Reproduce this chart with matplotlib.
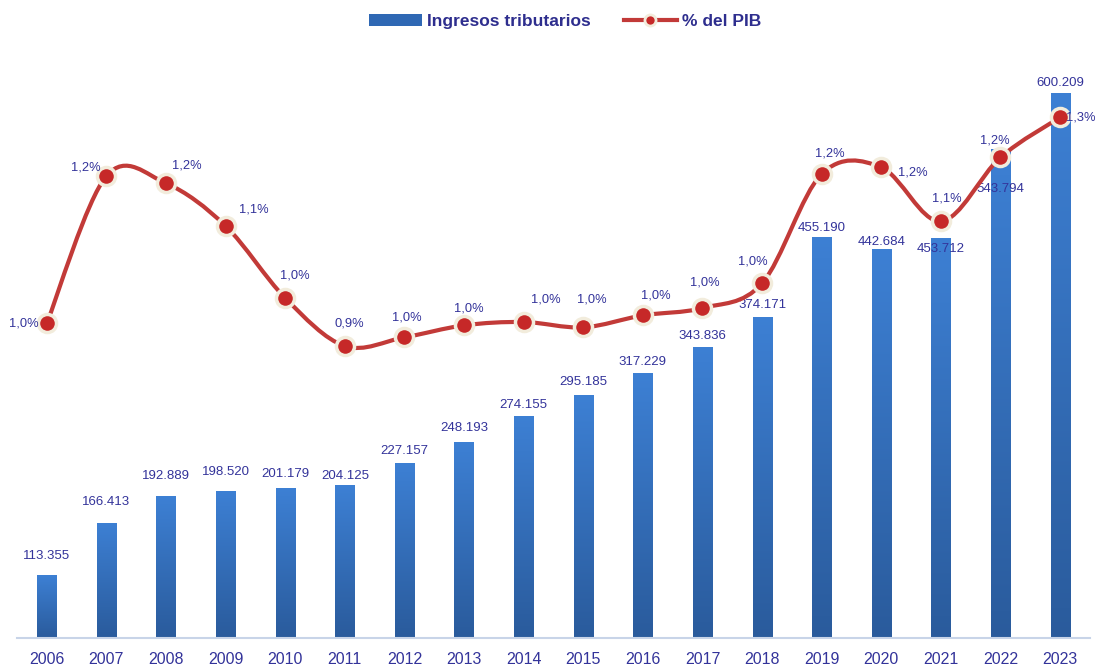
import numpy as np
import matplotlib
matplotlib.use("Agg")
import matplotlib.pyplot as plt
from matplotlib.path import Path
from matplotlib.patches import PathPatch, Patch
from matplotlib.lines import Line2D
from matplotlib.colors import LinearSegmentedColormap

plt.rcParams['font.family'] = ['Liberation Sans', 'DejaVu Sans']

# data
years = [str(y) for y in range(2006, 2024)]
ingresos = [113355, 166413, 192889, 198520, 201179, 204125, 227157, 248193, 274155,
            295185, 317229, 343836, 374171, 455190, 442684, 453712, 543794, 600209]
pct_pib = [0.975, 1.196, 1.185, 1.121, 1.013, 0.941, 0.954, 0.972, 0.977,
           0.969, 0.987, 0.998, 1.035, 1.199, 1.209, 1.128, 1.224, 1.284]

# label offsets in points (text centre relative to the mark)
pct_off = [(-16.5, 0), (-15, 6), (15, 13), (20, 12), (7, 16), (3, 16), (2, 14), (3.6, 12.2),
           (16, 16.5), (6.5, 20), (9.4, 14.4), (2, 18.7), (-6.5, 16), (5.8, 15), (23, -3.6),
           (4.3, 16.5), (-4.3, 12.2), (15, 0)]
bar_off = [13.7, 15, 14.4, 13.7, 10, 6.5, 8, 9.7, 8, 9.4, 8, 8, 8.6, 6.5, 5, -8, -29, 7.2]

txt_col = '#33339a'
blue_top = '#3d80d4'
blue_bot = '#2a5b9c'
red = '#c23a38'

fig = plt.figure(figsize=(10.97, 6.69), dpi=100)
ax = fig.add_axes([0.0155, 0.0463, 0.978, 0.8939])
ax2 = ax.twinx()

x = np.arange(len(years))
w = 0.32
ymin, ymax = 50000, 653700

cmap = LinearSegmentedColormap.from_list('b', [blue_bot, blue_top])
grad = np.linspace(0, 1, 256).reshape(-1, 1)
bars = ax.bar(x, np.array(ingresos) - ymin, bottom=ymin, width=w, color=blue_top, zorder=2)
for b, v in zip(bars, ingresos):
    im = ax.imshow(grad, cmap=cmap, origin='lower', aspect='auto',
                   extent=[b.get_x(), b.get_x() + w, ymin, v], zorder=2)
    im.set_clip_path(b)
ax.set_xlim(-0.5, len(years) - 0.5)
ax.set_ylim(ymin, ymax)

for i, v in enumerate(ingresos):
    lab = f"{v:,}".replace(',', '.')
    ax.annotate(lab, (x[i], v), xytext=(0, bar_off[i]), textcoords='offset points',
                ha='center', va='center', fontsize=9.5, color=txt_col, zorder=5)

# smooth line (catmull-rom -> bezier)
ax2.set_ylim(0.503, 1.40)
pts = np.column_stack([x, pct_pib]).astype(float)
verts = [tuple(pts[0])]
codes = [Path.MOVETO]
for i in range(len(pts) - 1):
    p0 = pts[i - 1] if i > 0 else pts[i]
    p1, p2 = pts[i], pts[i + 1]
    p3 = pts[i + 2] if i + 2 < len(pts) else pts[i + 1]
    c1 = p1 + (p2 - p0) / 6
    c2 = p2 - (p3 - p1) / 6
    verts += [tuple(c1), tuple(c2), tuple(p2)]
    codes += [Path.CURVE4] * 3
ax2.add_patch(PathPatch(Path(verts, codes), fill=False, edgecolor=red, lw=3, zorder=3))
ax2.plot(x, pct_pib, 'o', ms=13, mfc='#c62828', mec='#f2ecdc', mew=2.5, zorder=4)

for i, v in enumerate(pct_pib):
    lab = f"{v:.1f}%".replace('.', ',')
    ax2.annotate(lab, (x[i], v), xytext=pct_off[i], textcoords='offset points',
                 ha='center', va='center', fontsize=9.3, color=txt_col, zorder=5)

for a in (ax, ax2):
    for s in a.spines.values():
        s.set_visible(False)
    a.set_yticks([])
ax.spines['bottom'].set_visible(True)
ax.spines['bottom'].set_color('#c8d4e8')
ax.spines['bottom'].set_linewidth(1.5)
ax.set_xticks(x)
ax.set_xticklabels(years, fontsize=11.5, color=txt_col)
ax.tick_params(axis='x', length=0, pad=10)

handles = [Patch(facecolor='#2f68b4', edgecolor='none'),
           Line2D([], [], color=red, lw=3, marker='o', ms=8, mfc='#c62828', mec='#f2ecdc', mew=2)]
leg = fig.legend(handles, ['Ingresos tributarios', '% del PIB'], loc='upper center',
                 bbox_to_anchor=(0.515, 1.003), ncol=2, frameon=False, handlelength=3.05,
                 handleheight=0.69, columnspacing=1.9, handletextpad=0.3,
                 prop={'size': 12.5, 'weight': 'bold'})
for t in leg.get_texts():
    t.set_color('#2e2e8e')

fig.savefig('out.png', dpi=100)
